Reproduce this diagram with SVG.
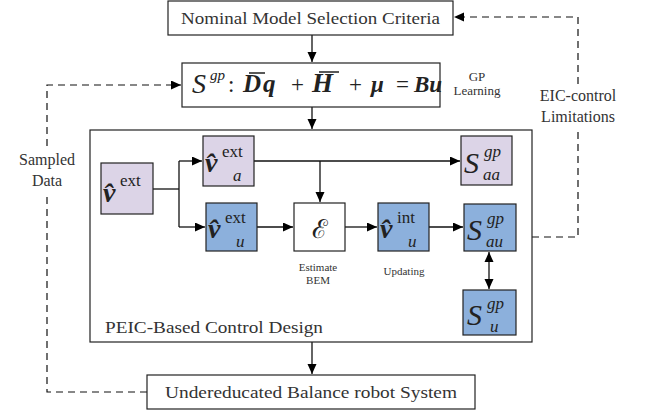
<svg xmlns="http://www.w3.org/2000/svg" width="646" height="414" viewBox="0 0 646 414" font-family="'Liberation Serif','DejaVu Serif',serif">
<defs>
<style>
.box{fill:#fff;stroke:#222;stroke-width:1.2}
.pur{fill:#dcd4e7;stroke:#222;stroke-width:1.2}
.blu{fill:#8cb0dc;stroke:#222;stroke-width:1.2}
.ln{fill:none;stroke:#111;stroke-width:1.3}
.dash{fill:none;stroke:#111;stroke-width:1.2;stroke-dasharray:7,5}
text{font-family:"Liberation Serif","DejaVu Serif",serif;fill:#333}
.t{font-size:16px}
.s{font-size:11px}
.m{font-size:13px}
.mt{fill:#222}
.v{font-size:28px;font-weight:bold;font-style:italic}
.sup{font-size:17px}
.sub{font-size:17px;font-style:italic}
.cal{font-size:30px;font-style:italic}
.f{font-size:23px;fill:#222}
.fb{font-weight:bold;font-style:italic}
</style>
<marker id="ar" markerUnits="userSpaceOnUse" markerWidth="11" markerHeight="10" refX="10" refY="4.5" orient="auto">
<path d="M0,0 L10,4.5 L0,9 z" fill="#000"/>
</marker>
<marker id="arS" markerUnits="userSpaceOnUse" markerWidth="11" markerHeight="10" refX="0" refY="4.5" orient="auto">
<path d="M10,0 L0,4.5 L10,9 z" fill="#000"/>
</marker>
</defs>

<g id="connectors">
<path class="ln" d="M312,35 V62" marker-end="url(#ar)"/>
<path class="ln" d="M312,107 V129" marker-end="url(#ar)"/>
<path class="ln" d="M312,342 V374" marker-end="url(#ar)"/>
<path class="dash" d="M147,392 H47 V192"/>
<path class="dash" d="M47,146 V85 H181" marker-end="url(#ar)"/>
<path class="dash" d="M532,237 H578 V130"/>
<path class="dash" d="M578,84 V17 H454" marker-end="url(#ar)"/>
<path class="ln" d="M153,189 H179"/>
<path class="ln" d="M179,161 V227"/>
<path class="ln" d="M179,161 H202" marker-end="url(#ar)"/>
<path class="ln" d="M179,227 H205" marker-end="url(#ar)"/>
<path class="ln" d="M254,161 H460" marker-end="url(#ar)"/>
<path class="ln" d="M320,161 V202" marker-end="url(#ar)"/>
<path class="ln" d="M257,227 H293" marker-end="url(#ar)"/>
<path class="ln" d="M345,227 H377" marker-end="url(#ar)"/>
<path class="ln" d="M429,227 H463" marker-end="url(#ar)"/>
<path class="ln" d="M489,252 V289" marker-start="url(#arS)" marker-end="url(#ar)"/>
</g>

<g id="top-box">
<rect class="box" x="168" y="1" width="285" height="34"/>
<text class="t" x="310.5" y="23.5" text-anchor="middle" textLength="259" lengthAdjust="spacingAndGlyphs">Nominal Model Selection Criteria</text>
</g>

<g id="formula-box">
<rect class="box" x="182" y="63" width="258" height="44"/>
<text class="f"><tspan class="cal" x="192" y="93" style="font-size:28px">S</tspan><tspan x="210" y="80" style="font-size:15px;font-style:italic">gp</tspan><tspan x="228" y="92">:</tspan><tspan class="fb" x="243" y="92" style="font-size:25px">D</tspan><tspan class="fb" x="263" y="92" style="font-size:25px">q</tspan><tspan x="291" y="92">+</tspan><tspan class="fb" x="312" y="92" style="font-size:27px">H</tspan><tspan x="349" y="92">+</tspan><tspan class="fb" x="371" y="92">μ</tspan><tspan x="396" y="92">=</tspan><tspan class="fb" x="414" y="92">Bu</tspan></text>
<path d="M249,73 H265 M319,72 H339" stroke="#222" stroke-width="1.6"/>
</g>

<g id="gp-learning-label">
<text class="m" x="477" y="81" text-anchor="middle">GP</text>
<text class="m" x="477" y="95" text-anchor="middle">Learning</text>
</g>

<g id="sampled-data-label">
<text class="t" x="47" y="165" text-anchor="middle">Sampled</text>
<text class="t" x="47" y="186" text-anchor="middle">Data</text>
</g>

<g id="eic-label">
<text class="t" x="578" y="101" text-anchor="middle">EIC-control</text>
<text class="t" x="578" y="122" text-anchor="middle">Limitations</text>
</g>

<g id="peic-box">
<rect x="90" y="130" width="442" height="212" fill="none" stroke="#222" stroke-width="1.2"/>
<text class="t" x="105" y="333" textLength="218" lengthAdjust="spacingAndGlyphs">PEIC-Based Control Design</text>
</g>

<g id="v-ext">
<rect class="pur" x="101" y="163" width="52" height="51"/>
<text class="mt"><tspan class="v" x="103" y="202">v̂</tspan><tspan class="sup" x="120" y="186">ext</tspan></text>
</g>

<g id="v-a-ext">
<rect class="pur" x="203" y="136" width="51" height="50"/>
<text class="mt"><tspan class="v" x="205" y="172">v̂</tspan><tspan class="sup" x="222" y="157">ext</tspan><tspan class="sub" x="233" y="181">a</tspan></text>
</g>

<g id="s-aa">
<rect class="pur" x="461" y="136" width="51" height="49"/>
<text class="mt"><tspan class="cal" x="464" y="173">S</tspan><tspan class="sub" x="484" y="157">gp</tspan><tspan class="sub" x="483" y="180">aa</tspan></text>
</g>

<g id="v-u-ext">
<rect class="blu" x="206" y="203" width="51" height="48"/>
<text class="mt"><tspan class="v" x="208" y="238">v̂</tspan><tspan class="sup" x="225" y="223">ext</tspan><tspan class="sub" x="236" y="247">u</tspan></text>
</g>

<g id="e-box">
<rect class="box" x="294" y="203" width="51" height="48"/>
<text x="320" y="238" text-anchor="middle" style="font-family:'DejaVu Serif',serif;font-size:26px;fill:#222">ℰ</text>
</g>

<g id="estimate-label">
<text class="s" x="318" y="271" text-anchor="middle">Estimate</text>
<text class="s" x="318" y="284" text-anchor="middle">BEM</text>
</g>

<g id="v-u-int">
<rect class="blu" x="378" y="203" width="51" height="48"/>
<text class="mt"><tspan class="v" x="380" y="238">v̂</tspan><tspan class="sup" x="397" y="223">int</tspan><tspan class="sub" x="408" y="247">u</tspan></text>
</g>

<g id="updating-label">
<text class="s" x="404" y="275" text-anchor="middle">Updating</text>
</g>

<g id="s-au">
<rect class="blu" x="464" y="204" width="52" height="47"/>
<text class="mt"><tspan class="cal" x="467" y="240">S</tspan><tspan class="sub" x="487" y="224">gp</tspan><tspan class="sub" x="486" y="247">au</tspan></text>
</g>

<g id="s-u">
<rect class="blu" x="463" y="290" width="53" height="45"/>
<text class="mt"><tspan class="cal" x="467" y="325">S</tspan><tspan class="sub" x="487" y="309">gp</tspan><tspan class="sub" x="490" y="332">u</tspan></text>
</g>

<g id="bottom-box">
<rect class="box" x="147" y="375" width="328" height="34"/>
<text class="t" x="311" y="397.5" text-anchor="middle" textLength="292" lengthAdjust="spacingAndGlyphs">Undereducated Balance robot System</text>
</g>
</svg>
